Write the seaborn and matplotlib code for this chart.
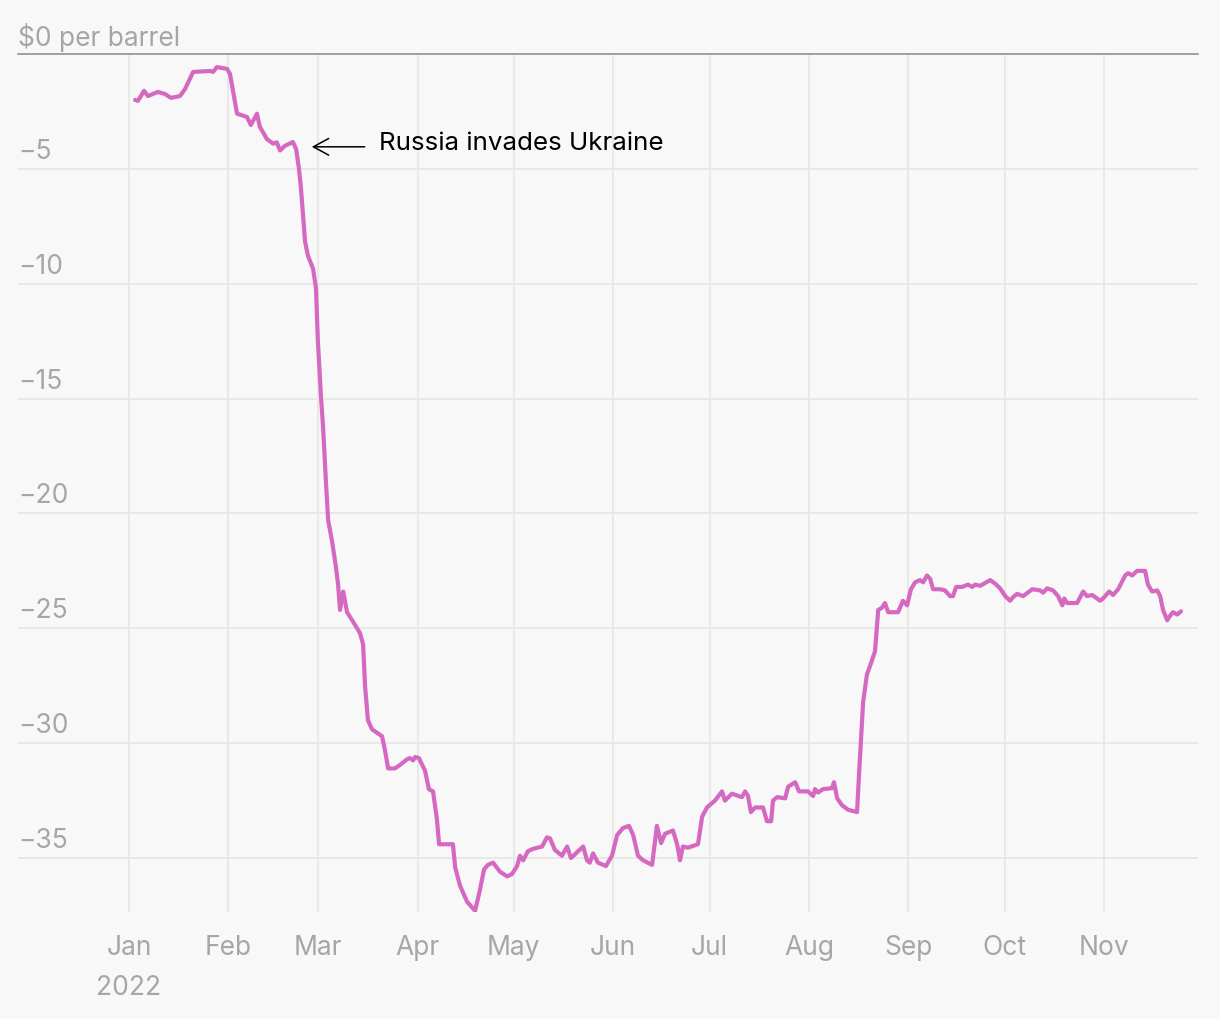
import pandas as pd
import matplotlib.pyplot as plt
import matplotlib.dates as mdates
import seaborn as sns

# --- data: days since 1 Jan 2022, spread in $ per barrel ---
day_offsets = [
    1.9, 2.8, 4.7, 5.9, 9.0, 11.2, 13.1, 15.9, 17.5, 20.0, 25.3, 26.2, 27.4, 30.6, 31.5,
    33.7, 36.8, 38.0, 39.9, 40.8, 43.0, 44.9, 46.1, 47.1, 48.6, 51.1, 52.1, 53.0, 53.6,
    54.9, 55.8, 57.4, 58.3, 58.9, 59.9, 60.5, 61.4, 62.1, 63.3, 64.5, 65.2, 65.8, 66.8,
    68.0, 69.8, 72.0, 73.0, 73.6, 74.5, 75.8, 78.9, 79.8, 80.8, 82.9, 84.5, 86.7, 87.6,
    88.6, 89.2, 90.4, 92.3, 93.5, 94.8, 96.0, 96.7, 101.0, 101.7, 103.2, 105.4, 107.9,
    109.4, 110.7, 111.9, 113.5, 115.7, 117.9, 119.4, 121.0, 121.9, 122.9, 124.4, 126.0,
    128.8, 130.3, 131.3, 132.8, 135.0, 136.6, 137.8, 141.6, 142.8, 143.7, 144.7, 146.2,
    148.7, 150.6, 152.2, 154.0, 155.9, 157.2, 158.7, 160.3, 163.1, 164.6, 165.9, 167.1,
    169.6, 170.9, 171.8, 172.7, 174.3, 177.4, 178.7, 180.2, 182.7, 184.9, 185.8, 188.0,
    191.1, 192.1, 193.0, 193.9, 195.2, 197.7, 198.9, 200.2, 200.8, 202.1, 204.6, 205.5,
    207.7, 208.9, 211.7, 213.3, 213.9, 214.8, 216.4, 219.2, 219.8, 220.8, 222.3, 224.2,
    227.0, 227.6, 228.9, 230.1, 231.4, 232.6, 233.6, 234.8, 235.7, 236.7, 239.8, 241.3,
    242.6, 243.8, 245.1, 246.6, 247.6, 248.8, 249.8, 250.7, 252.9, 254.4, 256.0, 256.9,
    257.9, 259.7, 261.6, 262.9, 263.8, 265.4, 268.5, 270.0, 271.6, 273.2, 274.7, 275.6,
    276.9, 278.8, 281.6, 284.1, 285.0, 286.3, 288.1, 289.7, 291.0, 291.6, 292.5, 295.6,
    297.5, 298.7, 300.3, 302.8, 303.7, 305.6, 306.8, 308.4, 310.6, 311.5, 312.8, 314.3,
    316.8, 317.7, 319.0, 320.6, 321.5, 322.4, 323.7, 324.6, 325.5, 326.8, 328.0,
]
spread = [
    -2.0, -2.04, -1.6, -1.83, -1.65, -1.74, -1.91, -1.83, -1.52, -0.78, -0.74, -0.78, -0.57, -0.65, -0.87,
    -2.6, -2.74, -3.09, -2.6, -3.17, -3.7, -3.9, -3.85, -4.2, -4.0, -3.83, -4.13, -5.0, -5.8,
    -8.17, -8.78, -9.35, -10.2, -12.5, -15.0, -16.2, -18.6, -20.3, -21.2, -22.3, -23.1, -24.2, -23.4,
    -24.3, -24.7, -25.2, -25.7, -27.5, -29.0, -29.4, -29.7, -30.3, -31.1, -31.1, -30.95, -30.7, -30.65,
    -30.75, -30.6, -30.65, -31.2, -32.0, -32.1, -33.3, -34.4, -34.4, -35.4, -36.2, -36.9, -37.3,
    -36.4, -35.5, -35.3, -35.2, -35.6, -35.8, -35.7, -35.35, -34.9, -35.1, -34.7, -34.6,
    -34.5, -34.1, -34.15, -34.65, -34.9, -34.5, -35.0, -34.5, -35.1, -35.2, -34.8, -35.2,
    -35.35, -34.9, -34.0, -33.7, -33.6, -34.0, -34.9, -35.1, -35.3, -33.6, -34.35, -33.95,
    -33.8, -34.4, -35.1, -34.5, -34.55, -34.4, -33.2, -32.8, -32.5, -32.1, -32.5, -32.2,
    -32.35, -32.1, -32.3, -33.0, -32.8, -32.8, -33.4, -33.4, -32.5, -32.35, -32.4, -31.9,
    -31.7, -32.1, -32.1, -32.3, -32.0, -32.15, -32.0, -31.96, -31.7, -32.4, -32.7, -32.9,
    -33.0, -31.4, -28.2, -27.0, -26.5, -26.0, -24.2, -24.1, -23.9, -24.3, -24.3, -23.8,
    -24.0, -23.3, -23.0, -22.9, -23.0, -22.7, -22.85, -23.3, -23.3, -23.35, -23.6, -23.6,
    -23.2, -23.2, -23.1, -23.2, -23.1, -23.15, -22.9, -23.05, -23.26, -23.6, -23.8, -23.65,
    -23.5, -23.6, -23.3, -23.35, -23.45, -23.26, -23.35, -23.6, -24.0, -23.7, -23.9, -23.9,
    -23.4, -23.6, -23.55, -23.8, -23.7, -23.4, -23.55, -23.3, -22.7, -22.6, -22.7, -22.5,
    -22.5, -23.1, -23.4, -23.35, -23.6, -24.2, -24.65, -24.45, -24.3, -24.4, -24.26,
]
y_ticks = [-5, -10, -15, -20, -25, -30, -35]
month_labels = ['Jan\n2022', 'Feb', 'Mar', 'Apr', 'May', 'Jun', 'Jul', 'Aug', 'Sep', 'Oct', 'Nov']

df = pd.DataFrame({
    'date': pd.Timestamp('2022-01-01') + pd.to_timedelta(day_offsets, unit='D'),
    'spread': spread,
})

# --- style ---
bg = '#f8f8f8'
grey = '#a6a6a6'
sns.set_style('white')
plt.rcParams['font.family'] = ['Inter', 'DejaVu Sans']

fig = plt.figure(figsize=(12.2, 10.2), dpi=100, facecolor=bg)
ax = fig.add_axes([18 / 1220, 1 - 913 / 1020, 1180 / 1220, 858 / 1020])
ax.set_facecolor(bg)

sns.lineplot(data=df, x='date', y='spread', color='#d568c1', linewidth=3.0, ax=ax,
             solid_joinstyle='round', solid_capstyle='round')

ax.set_xlim(pd.Timestamp('2022-01-01') - pd.Timedelta(days=34.6),
            pd.Timestamp('2022-01-01') + pd.Timedelta(days=333.3))
ax.set_ylim(-37.35, 0)

# grid
ax.set_yticks(y_ticks)
ax.xaxis.set_major_locator(mdates.MonthLocator(bymonth=range(1, 12)))
ax.grid(True, color='#e7e7e7', linewidth=1.3)
ax.axhline(0, color='#a0a0a0', linewidth=1.4, clip_on=False, zorder=3)
for s in ax.spines.values():
    s.set_visible(False)

# y labels sit above the gridlines, left aligned
ax.tick_params(axis='y', length=0, labelleft=False)
ytrans = ax.get_yaxis_transform()
for v in y_ticks:
    ax.text(0, v + 0.22, f'\u2212{abs(v)}', transform=ytrans, ha='left', va='bottom',
            fontsize=19, color=grey)
ax.text(0, 0.15, '$0 per barrel', transform=ytrans, ha='left', va='bottom',
        fontsize=19, color=grey)

# x labels
ax.set_xticklabels(month_labels)
ax.tick_params(axis='x', length=0, pad=16, labelsize=19, labelcolor=grey)
for lbl in ax.get_xticklabels():
    lbl.set_linespacing(1.7)
ax.set_xlabel('')
ax.set_ylabel('')

# annotation
ax.annotate('', xy=(pd.Timestamp('2022-02-27'), -4.04), xytext=(pd.Timestamp('2022-03-15 12:00'), -4.04),
            arrowprops=dict(arrowstyle='->,head_length=0.55,head_width=0.3', color='black', lw=1.1,
                            mutation_scale=20, shrinkA=0, shrinkB=0))
ax.text(pd.Timestamp('2022-03-20'), -3.85, 'Russia invades Ukraine', ha='left', va='center',
        fontsize=18.7, color='black')

fig.savefig('out.png', dpi=100, facecolor=bg)
